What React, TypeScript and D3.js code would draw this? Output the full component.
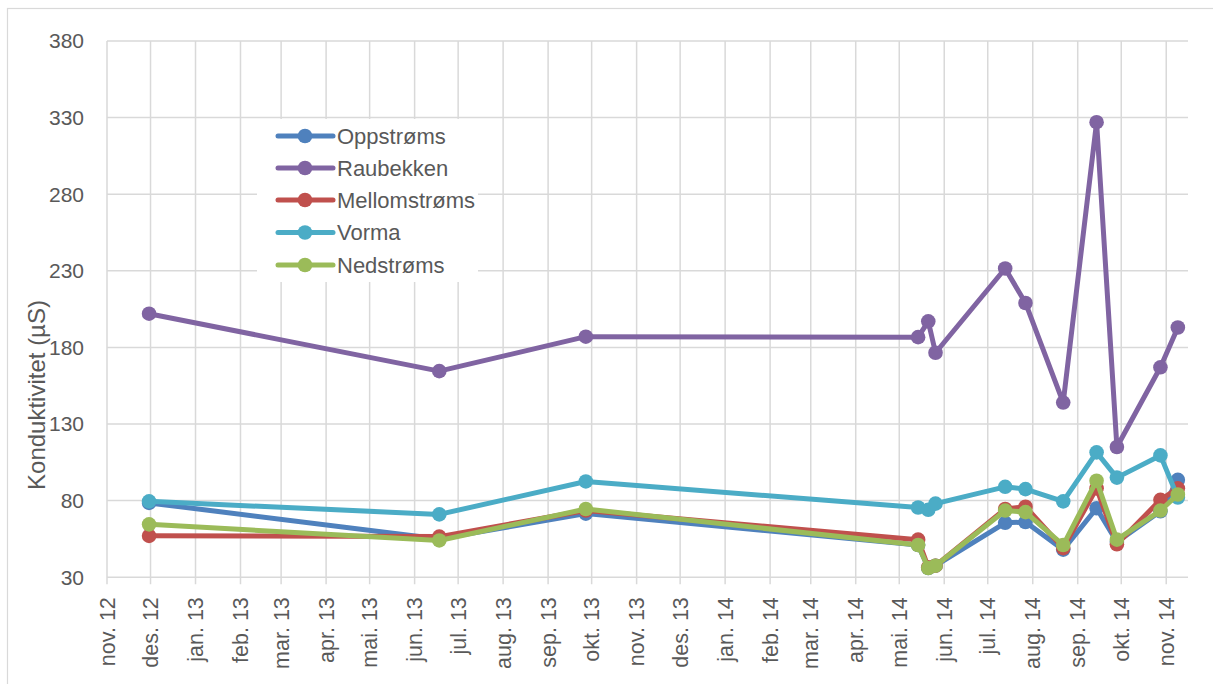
import React from "react";
import * as d3 from "d3";

// Sampling dates and conductivity (µS) per station
const sampleDates = [
  "2012-11-30", "2013-06-18", "2013-09-27", "2014-05-14", "2014-05-21",
  "2014-05-26", "2014-07-13", "2014-07-27", "2014-08-22", "2014-09-14",
  "2014-09-28", "2014-10-28", "2014-11-09",
];
const oppstroms = [78.5, 55, 71.5, 51, 36, 37.5, 65.5, 66, 48, 75, 53, 73, 93.5];
const raubekken = [202, 164.5, 187, 186.7, 197, 176.5, 231.5, 209, 144, 327, 115, 167, 193];
const mellomstroms = [57, 56.5, 73.5, 54.5, 36.5, 37.5, 74.5, 76, 49, 88, 51.5, 80.5, 88];
const vorma = [79.5, 71, 92.5, 75.5, 74, 78, 89, 87.5, 79.5, 111.5, 95, 109.5, 82];
const nedstroms = [64.5, 54, 74.5, 51, 36, 37.5, 73.5, 72.5, 51, 93, 54.5, 73.5, 84];

const seriesNames = ["Oppstrøms", "Raubekken", "Mellomstrøms", "Vorma", "Nedstrøms"];
const seriesValues = [oppstroms, raubekken, mellomstroms, vorma, nedstroms];
const seriesColors = ["#4F81BD", "#8064A2", "#C0504D", "#4BACC6", "#9BBB59"];

const yTicks = [30, 80, 130, 180, 230, 280, 330, 380];
const monthNames = ["jan.", "feb.", "mar.", "apr.", "mai.", "jun.", "jul.", "aug.", "sep.", "okt.", "nov.", "des."];
const axisStart = "2012-11-01";
const axisEnd = "2014-11-16";
const yTitle = "Konduktivitet (µS)";

const W = 1213;
const H = 684;
const plot = { left: 107, right: 1188, top: 41, bottom: 577.2 };
const FONT = "'Liberation Sans', Arial, sans-serif";
const TEXT = "#595959";
const GRID = "#d9d9d9";

export default function App() {
  const parse = d3.utcParse("%Y-%m-%d");
  const x = d3.scaleUtc().domain([parse(axisStart)!, parse(axisEnd)!]).range([plot.left, plot.right]);
  const y = d3.scaleLinear().domain([30, 380]).range([plot.bottom, plot.top]);
  const dates = sampleDates.map((d) => parse(d)!);
  const months = d3.utcMonth.range(parse(axisStart)!, d3.utcDay.offset(parse("2014-11-01")!, 1));
  const fmt = (d: Date) => `${monthNames[d.getUTCMonth()]} ${String(d.getUTCFullYear()).slice(2)}`;

  const line = d3
    .line<[Date, number]>()
    .x((d) => x(d[0]))
    .y((d) => y(d[1]));

  const legend = { x: 257, y: 119, w: 221, h: 163, rowY: [136, 168, 200, 232.5, 265] };

  return (
    <svg
      width={W}
      height={H}
      style={{ position: "absolute", left: 0, top: 0, background: "#fff" }}
      fontFamily={FONT}
    >
      <rect x={7.5} y={8.5} width={W + 20} height={H + 20} fill="#fff" stroke={GRID} strokeWidth={1.2} />

      {/* horizontal gridlines */}
      {yTicks.map((t) => (
        <line key={`h${t}`} x1={plot.left} x2={plot.right} y1={y(t)} y2={y(t)} stroke={GRID} strokeWidth={1.5} />
      ))}
      {/* vertical gridlines and ticks at month starts */}
      {months.map((m) => (
        <line key={`v${+m}`} x1={x(m)} x2={x(m)} y1={plot.top} y2={plot.bottom + 7} stroke={GRID} strokeWidth={1.5} />
      ))}

      {/* y tick labels */}
      {yTicks.map((t) => (
        <text key={`yl${t}`} x={84} y={y(t)} dy="0.35em" textAnchor="end" fontSize={21} fill={TEXT}>
          {t}
        </text>
      ))}

      {/* x tick labels */}
      {months.map((m) => (
        <text
          key={`xl${+m}`}
          transform={`translate(${x(m)},${plot.bottom + 20}) rotate(-90)`}
          dy="0.35em"
          textAnchor="end"
          fontSize={21.5}
          fill={TEXT}
        >
          {fmt(m)}
        </text>
      ))}

      {/* axis title */}
      <text transform="translate(37,395) rotate(-90)" dy="0.35em" textAnchor="middle" fontSize={24} fill={TEXT}>
        {yTitle}
      </text>

      {/* legend background */}
      <rect x={legend.x} y={legend.y} width={legend.w} height={legend.h} fill="#fff" />

      {/* series */}
      {seriesValues.map((vals, i) => {
        const pts = dates.map((d, j) => [d, vals[j]] as [Date, number]);
        return (
          <g key={seriesNames[i]}>
            <path d={line(pts) || ""} fill="none" stroke={seriesColors[i]} strokeWidth={5} strokeLinejoin="round" strokeLinecap="round" />
            {pts.map((p, j) => (
              <circle key={j} cx={x(p[0])} cy={y(p[1])} r={7.3} fill={seriesColors[i]} />
            ))}
          </g>
        );
      })}

      {/* legend entries */}
      {seriesNames.map((name, i) => (
        <g key={`lg${name}`}>
          <line x1={278} x2={333} y1={legend.rowY[i]} y2={legend.rowY[i]} stroke={seriesColors[i]} strokeWidth={5} strokeLinecap="round" />
          <circle cx={305} cy={legend.rowY[i]} r={7.3} fill={seriesColors[i]} />
          <text x={337} y={legend.rowY[i]} dy="0.35em" fontSize={22} fill={TEXT}>
            {name}
          </text>
        </g>
      ))}
    </svg>
  );
}
